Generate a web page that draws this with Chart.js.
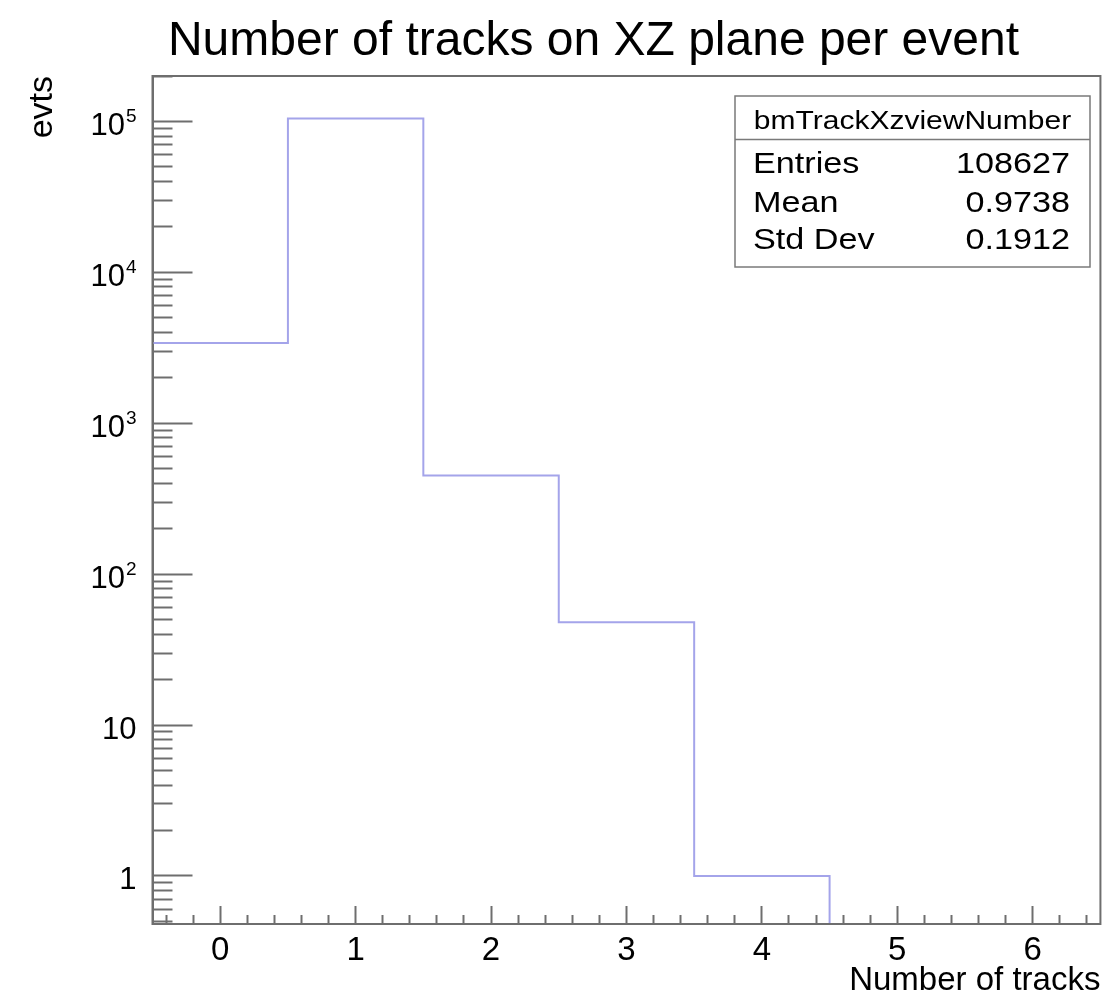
<!DOCTYPE html>
<html>
<head>
<meta charset="utf-8">
<script src="https://cdn.jsdelivr.net/npm/chart.js@4.4.1/dist/chart.umd.min.js"></script>
<style>
  html, body { margin: 0; padding: 0; background: #fff; }
  canvas { display: block; }
</style>
</head>
<body>
<canvas id="hist" width="1112" height="997"></canvas>
<script>
// Histogram: number of reconstructed XZ-view tracks per event
const binEdges = [-0.5, 0.5, 1.5, 2.5, 3.5, 4.5, 5.5, 6.5];
const binCounts = [3395, 104733, 450, 48, 1, 0, 0];

// Statistics box
const statsName = 'bmTrackXzviewNumber';
const statsLabels = ['Entries', 'Mean', 'Std Dev'];
const statsValues = ['108627', '0.9738', '0.1912'];

// Axis ranges and tick labels
const xRange = [-0.5, 6.5];
const xMajorTicks = [0, 1, 2, 3, 4, 5, 6];
const xMinorPerUnit = 5;
const yRange = [0.48, 2.0e5];
const yMajorTicks = [1, 10, 100, 1000, 10000, 100000];
const yLabelBases = ['1', '10', '10', '10', '10', '10'];
const yLabelExponents = ['', '', '2', '3', '4', '5'];
const yMinorMultipliers = [2, 3, 4, 5, 6, 7, 8, 9];

const titleText = 'Number of tracks on XZ plane per event';
const xTitle = 'Number of tracks';
const yTitle = 'evts';

const FONT = "'Liberation Sans', Arial, Helvetica, sans-serif";
const AXIS = '#6e6e6e';
const LINE = '#a4a4ea';

// Step outline: each bin's count holds from its left edge to the next edge;
// empty bins rest on the axis floor.
const stepPoints = binCounts.map((c, i) => ({ x: binEdges[i], y: c > 0 ? c : yRange[0] }));
stepPoints.push({ x: binEdges[binEdges.length - 1], y: stepPoints[stepPoints.length - 1].y });

const isMajorX = v => xMajorTicks.some(m => Math.abs(m - v) < 1e-6);
const isMajorY = v => yMajorTicks.some(m => Math.abs(v / m - 1) < 1e-9);

function xTickValues() {
  const vals = [];
  const step = 1 / xMinorPerUnit;
  for (let k = Math.ceil(xRange[0] / step); k * step <= xRange[1] + 1e-9; k++) {
    vals.push(Math.round(k * step * 1000) / 1000);
  }
  return vals;
}

function yTickValues() {
  const vals = [];
  for (let e = -1; e <= 5; e++) {
    const d = Math.pow(10, e);
    [1, ...yMinorMultipliers].forEach(m => {
      const v = m * d;
      if (v >= yRange[0] && v <= yRange[1]) vals.push(v);
    });
  }
  return vals;
}

function stretchedText(ctx, text, x, y, align, sx) {
  ctx.save();
  ctx.translate(x, y);
  ctx.scale(sx, 1);
  ctx.textAlign = align;
  ctx.textBaseline = 'alphabetic';
  ctx.fillText(text, 0, 0);
  ctx.restore();
}

// Power-of-ten labels on the log axis, with raised exponents
const powerLabels = {
  id: 'powerLabels',
  afterDraw(chart) {
    const ctx = chart.ctx;
    const scale = chart.scales.y;
    const right = scale.right - 16;
    ctx.save();
    ctx.fillStyle = '#000';
    ctx.textBaseline = 'alphabetic';
    yMajorTicks.forEach((v, i) => {
      const py = scale.getPixelForValue(v);
      const exp = yLabelExponents[i];
      ctx.font = `19px ${FONT}`;
      const ew = exp ? ctx.measureText(exp).width : 0;
      if (exp) {
        ctx.textAlign = 'right';
        ctx.fillText(exp, right, py + 1);
      }
      ctx.font = `31px ${FONT}`;
      ctx.textAlign = 'right';
      ctx.fillText(yLabelBases[i], right - (exp ? ew + 1 : 0), py + 13.5);
    });
    ctx.restore();
  }
};

// Frame, main title and statistics box
const decorations = {
  id: 'decorations',
  afterDatasetsDraw(chart) {
    const { ctx, chartArea: a } = chart;
    ctx.save();
    ctx.strokeStyle = AXIS;
    ctx.lineWidth = 2;
    ctx.strokeRect(a.left, a.top, a.right - a.left, a.bottom - a.top);
    ctx.restore();
  },
  afterDraw(chart) {
    const ctx = chart.ctx;
    ctx.save();
    ctx.fillStyle = '#000';
    ctx.font = `48px ${FONT}`;
    ctx.textAlign = 'center';
    ctx.textBaseline = 'alphabetic';
    ctx.fillText(titleText, 593.5, 55);

    // statistics box
    const bx = 735, by = 96, bw = 355, bh = 171, sep = 139.5;
    ctx.fillStyle = '#fff';
    ctx.fillRect(bx, by, bw, bh);
    ctx.strokeStyle = '#7a7a7a';
    ctx.lineWidth = 1.5;
    ctx.strokeRect(bx, by, bw, bh);
    ctx.beginPath();
    ctx.moveTo(bx, sep);
    ctx.lineTo(bx + bw, sep);
    ctx.stroke();

    ctx.fillStyle = '#000';
    ctx.font = `25px ${FONT}`;
    stretchedText(ctx, statsName, bx + bw / 2, 128.5, 'center', 1.2);
    ctx.font = `30px ${FONT}`;
    const baselines = [172.5, 211.5, 248.5];
    statsLabels.forEach((lab, i) => {
      stretchedText(ctx, lab, 753, baselines[i], 'left', 1.14);
      stretchedText(ctx, statsValues[i], 1070, baselines[i], 'right', 1.14);
    });
    ctx.restore();
  }
};

new Chart(document.getElementById('hist'), {
  type: 'line',
  data: {
    datasets: [{
      data: stepPoints,
      stepped: 'before',
      borderColor: LINE,
      borderWidth: 2,
      pointRadius: 0,
      fill: false
    }]
  },
  options: {
    responsive: false,
    devicePixelRatio: 1,
    animation: false,
    layout: { padding: { top: 76, right: 8, bottom: 0, left: 0 } },
    plugins: {
      legend: { display: false },
      tooltip: { enabled: false },
      title: { display: false }
    },
    scales: {
      x: {
        type: 'linear',
        min: xRange[0],
        max: xRange[1],
        bounds: 'data',
        afterBuildTicks: s => { s.ticks = xTickValues().map(v => ({ value: v })); },
        afterFit: s => { s.height = 73; },
        ticks: {
          autoSkip: false,
          maxRotation: 0,
          padding: 25,
          color: '#000',
          font: { family: FONT, size: 33 },
          callback: v => (isMajorX(v) ? String(Math.round(v)) : '')
        },
        grid: {
          drawOnChartArea: false,
          drawTicks: true,
          tickLength: -18,
          tickColor: AXIS,
          tickWidth: 2,
          tickBorderDash: c => (isMajorX(c.tick.value) ? [] : [10, 100]),
          tickBorderDashOffset: 0
        },
        border: { display: true, color: AXIS, width: 2 },
        title: {
          display: true,
          text: xTitle,
          align: 'end',
          color: '#000',
          font: { family: FONT, size: 33, lineHeight: 0.95 },
          padding: { top: 0, bottom: 0 }
        }
      },
      y: {
        type: 'logarithmic',
        min: yRange[0],
        max: yRange[1],
        bounds: 'data',
        afterBuildTicks: s => { s.ticks = yTickValues().map(v => ({ value: v })); },
        afterFit: s => { s.width = 152.5; },
        ticks: {
          autoSkip: false,
          callback: () => ''
        },
        grid: {
          drawOnChartArea: false,
          drawTicks: true,
          tickLength: -40,
          tickColor: AXIS,
          tickWidth: 2,
          tickBorderDash: c => (isMajorY(c.tick.value) ? [] : [20, 40]),
          tickBorderDashOffset: c => (isMajorY(c.tick.value) ? 0 : 40)
        },
        border: { display: true, color: AXIS, width: 2 },
        title: {
          display: true,
          text: yTitle,
          align: 'end',
          color: '#000',
          font: { family: FONT, size: 34 },
          padding: { top: 22, bottom: 0 }
        }
      }
    }
  },
  plugins: [powerLabels, decorations]
});
</script>
</body>
</html>
